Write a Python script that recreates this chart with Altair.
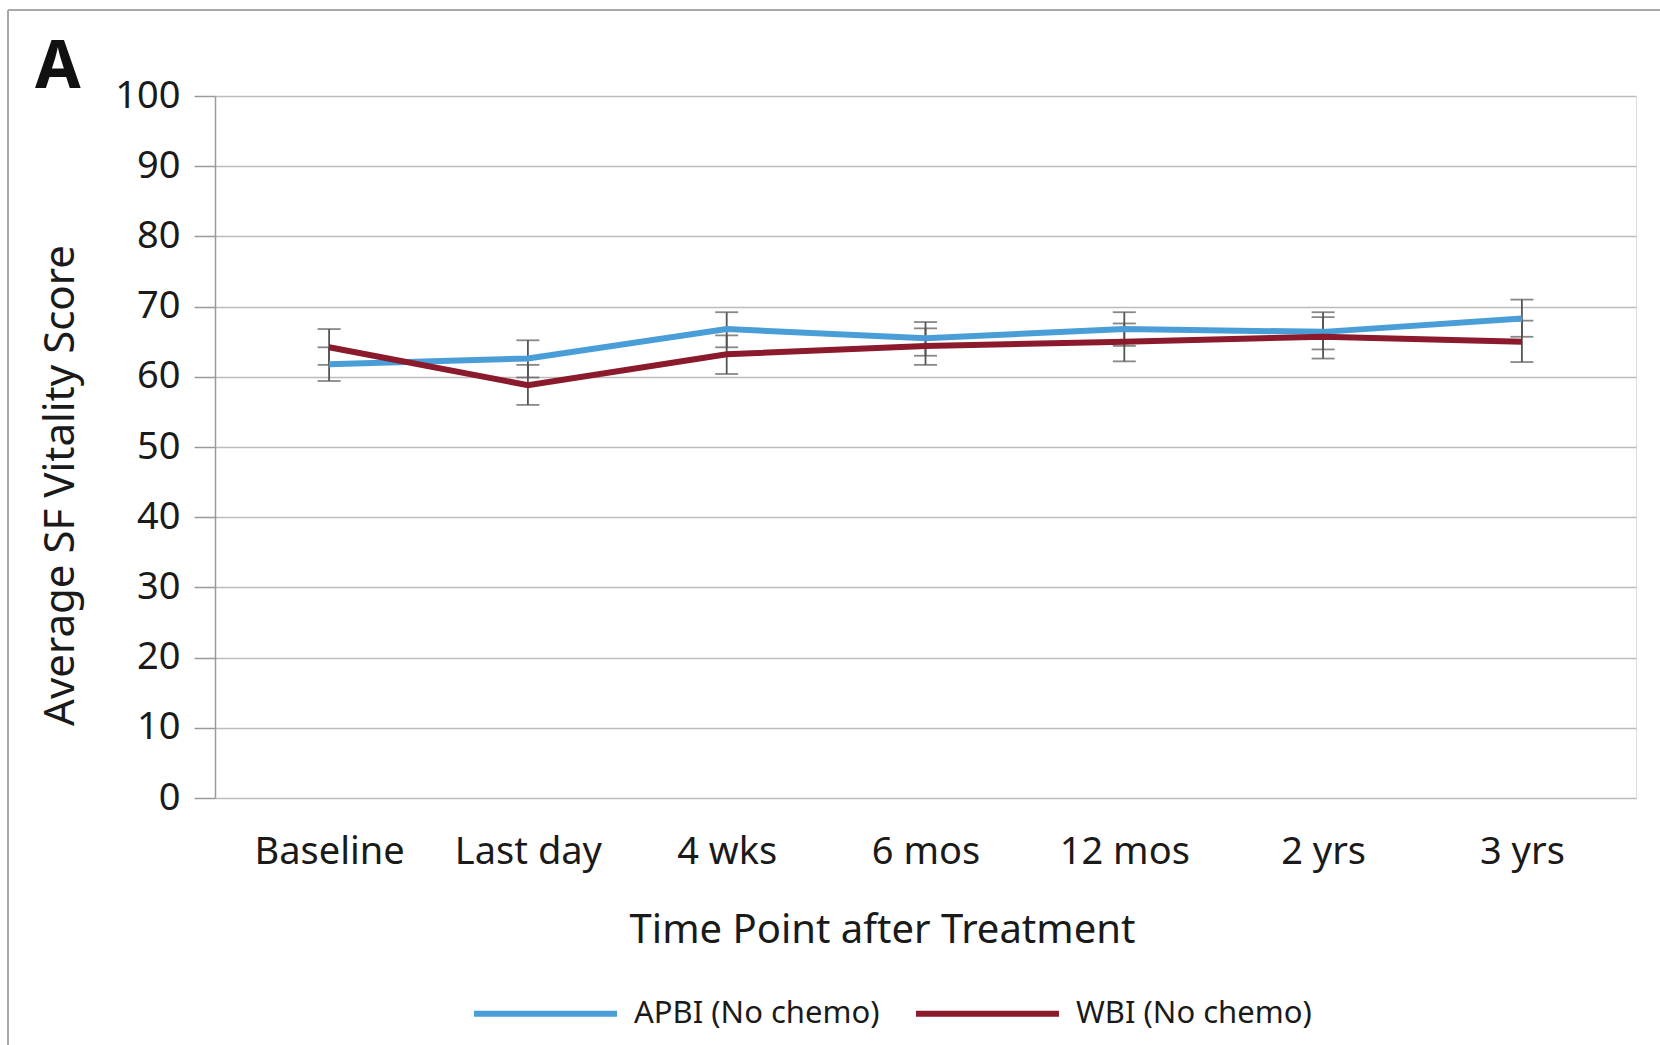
import altair as alt
import pandas as pd

# ---- data ----
time_points = ["Baseline", "Last day", "4 wks", "6 mos", "12 mos", "2 yrs", "3 yrs"]
series_names = ["APBI (No chemo)", "WBI (No chemo)"]

apbi_mean = [61.8, 62.6, 66.8, 65.5, 66.8, 66.4, 68.3]
apbi_lo = [59.4, 59.9, 64.2, 63.0, 64.4, 63.9, 65.7]
apbi_hi = [64.2, 65.2, 69.2, 67.8, 69.2, 69.2, 71.0]

wbi_mean = [64.2, 58.8, 63.2, 64.4, 65.0, 65.7, 65.0]
wbi_lo = [61.7, 56.0, 60.4, 61.7, 62.2, 62.6, 62.1]
wbi_hi = [66.8, 61.7, 65.9, 66.9, 67.6, 68.5, 68.0]

panel_label = "A"
colors = ["#4a9ed8", "#8b1a2c"]

rows = []
for name, m, lo, hi in [
    (series_names[0], apbi_mean, apbi_lo, apbi_hi),
    (series_names[1], wbi_mean, wbi_lo, wbi_hi),
]:
    for i, t in enumerate(time_points):
        rows.append({"time": t, "series": name, "order": i,
                     "mean": m[i], "lo": lo[i], "hi": hi[i]})
df = pd.DataFrame(rows)

FONT = "Noto Sans"
W, H = 1421, 702
PAD_L, PAD_T = 215, 96

x_enc = alt.X(
    "time:N", sort=time_points,
    scale=alt.Scale(type="point", padding=0.574),
    axis=alt.Axis(
        title="Time Point after Treatment", ticks=False, grid=False, domain=False,
        labelFontSize=38, labelFont=FONT, labelColor="#1a1a1a",
        labelBaseline="alphabetic", labelPadding=65, labelAngle=0,
        titleFontSize=40, titleFont=FONT, titleFontWeight="normal", titleColor="#1a1a1a",
        titleX=667, titleY=144, titleBaseline="alphabetic", titleAlign="center",
    ),
)

y_axis = alt.Axis(
    title="Average SF Vitality Score",
    values=list(range(0, 101, 10)),
    grid=True, gridColor="#bcbcbc", gridWidth=1.5,
    domain=True, domainColor="#9a9a9a", domainWidth=1.5,
    ticks=True, tickSize=21, tickColor="#9a9a9a", tickWidth=1.5,
    labelFontSize=38, labelFont=FONT, labelColor="#1a1a1a", labelPadding=14,
    titleFontSize=42, titleFont=FONT, titleFontWeight="normal", titleColor="#1a1a1a",
    titleAngle=270, titleX=-142, titleY=389, titleAlign="center",
    titleBaseline="alphabetic",
)
y_scale = alt.Scale(domain=[0, 100], nice=False)

color_enc = alt.Color(
    "series:N",
    scale=alt.Scale(domain=series_names, range=colors),
    legend=alt.Legend(
        title=None, orient="none", direction="horizontal",
        legendX=256, legendY=843,
        symbolType="stroke", symbolSize=20449, symbolStrokeWidth=6,
        labelFontSize=31, labelFont=FONT, labelColor="#1a1a1a",
        labelOffset=14, columnPadding=24, labelLimit=0,
    ),
)

base = alt.Chart(df)

err_rule = base.mark_rule(color="#555555", strokeWidth=1.8).encode(
    x=x_enc,
    y=alt.Y("lo:Q", scale=y_scale, axis=y_axis),
    y2="hi:Q",
)
cap_lo = base.mark_tick(color="#555555", size=23, thickness=1.8).encode(
    x=alt.X("time:N", sort=time_points), y=alt.Y("lo:Q"))
cap_hi = base.mark_tick(color="#555555", size=23, thickness=1.8).encode(
    x=alt.X("time:N", sort=time_points), y=alt.Y("hi:Q"))

lines = base.mark_line(strokeWidth=6).encode(
    x=alt.X("time:N", sort=time_points),
    y=alt.Y("mean:Q"),
    color=color_enc,
    order="order:Q",
)

one = pd.DataFrame({"label": [panel_label]})

# panel letter
letter = alt.Chart(one).mark_text(
    font=FONT, fontSize=66, fontWeight="bold", color="#111111",
    align="left", baseline="alphabetic",
).encode(text="label:N", x=alt.value(35 - PAD_L), y=alt.value(88 - PAD_T))

# outer frame of the figure panel
frame_top = alt.Chart(one).mark_rule(color="#a8a8a8", strokeWidth=2).encode(
    x=alt.value(8 - PAD_L), x2=alt.value(1660 - PAD_L), y=alt.value(10 - PAD_T))
frame_left = alt.Chart(one).mark_rule(color="#a8a8a8", strokeWidth=2).encode(
    x=alt.value(8 - PAD_L), y=alt.value(10 - PAD_T), y2=alt.value(1045 - PAD_T))

chart = alt.layer(
    err_rule, cap_lo, cap_hi, lines, letter, frame_top, frame_left
).properties(
    width=W, height=H,
    autosize=alt.AutoSizeParams(type="none"),
    padding={"left": PAD_L, "top": PAD_T, "right": 1660 - PAD_L - W, "bottom": 1045 - PAD_T - H},
).configure_view(stroke=None).configure(background="white")

chart.save("out.html", embed_options={"renderer": "svg", "actions": False})
